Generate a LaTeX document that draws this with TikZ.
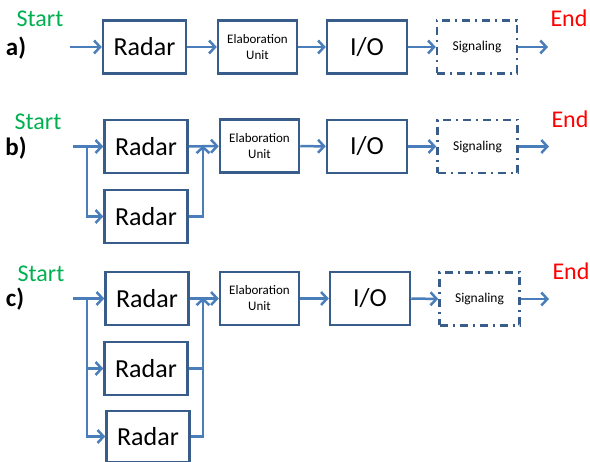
\documentclass[tikz,border=0pt]{standalone}
\usepackage{fontspec}
\setmainfont{Carlito}
\usetikzlibrary{arrows.meta}
\definecolor{boxc}{RGB}{56,93,138}
\definecolor{arrc}{RGB}{74,126,187}
\definecolor{startc}{RGB}{0,176,80}
\definecolor{endc}{RGB}{255,0,0}
\tikzset{
  blk/.style={draw=boxc, line width=2.5pt, rectangle, inner sep=0pt, minimum height=53pt, text=black},
  bigblk/.style={blk, minimum width=83pt, font=\fontsize{26}{28}\selectfont},
  elab/.style={blk, minimum width=79pt, font=\fontsize{13}{16}\selectfont, align=center},
  iob/.style={blk, minimum width=80pt, font=\fontsize{26}{28}\selectfont},
  sig/.style={blk, minimum width=80pt, font=\fontsize{13.5}{16}\selectfont, dash pattern=on 8pt off 5pt on 2pt off 5pt},
  conn/.style={draw=arrc, line width=2.5pt, -{Straight Barb[length=6pt,width=13pt,line width=2.5pt]}},
  plain/.style={draw=arrc, line width=2.5pt},
  startl/.style={text=startc, font=\fontsize{24}{26}\selectfont, inner sep=0pt},
  endl/.style={text=endc, font=\fontsize{24}{26}\selectfont, inner sep=0pt},
  lbl/.style={font=\fontsize{25}{27}\selectfont\bfseries, inner sep=0pt}
}
\begin{document}
\begin{tikzpicture}[x=1pt,y=-1pt]
\useasboundingbox (0,0) rectangle (590,462);
% ---- row a
\node[startl] (sa) at (40,19) {Start};
\node[lbl] (la) at (16,48) {a)};
\node[bigblk] (ra) at (144.5,47) {Radar};
\node[elab] (ea) at (257.5,47) {Elaboration\\Unit};
\node[iob] (ia) at (367,47) {I/O};
\node[sig] (ga) at (477,47) {Signaling};
\node[endl] (na) at (569,18) {End};
\coordinate (ina) at (70,47);
\coordinate (outa) at (548,47);
\draw[conn] (ina) -- (ra);
\draw[conn] (ra) -- (ea);
\draw[conn] (ea) -- (ia);
\draw[conn] (ia) -- (ga);
\draw[conn] (ga) -- (outa);
% ---- row b
\node[startl] (sb) at (38,122) {Start};
\node[lbl] (lb) at (16,148) {b)};
\node[bigblk] (rb1) at (146,146.5) {Radar};
\node[bigblk] (rb2) at (146,216.5) {Radar};
\node[elab] (eb) at (259.5,146) {Elaboration\\Unit};
\node[iob] (ib) at (367,146.5) {I/O};
\node[sig] (gb) at (477.5,146.5) {Signaling};
\node[endl] (nb) at (570,119) {End};
\coordinate (inb) at (73,146.5);
\coordinate (brb) at (87,146.5);
\coordinate (mgb) at (203,146.5);
\coordinate (outb) at (549,146.5);
\draw[conn] (inb) -- (rb1);
\draw[conn] (brb) |- (rb2);
\draw[conn] (rb1) -- (eb);
\draw[conn] (rb2) -| ([yshift=1pt]mgb);
\draw[conn] (eb) -- (ib);
\draw[conn] (ib) -- (gb);
\draw[conn] (gb) -- (outb);
% ---- row c
\node[startl] (sc) at (41,274) {Start};
\node[lbl] (lc) at (15,299) {c)};
\node[bigblk] (rc1) at (147,298.5) {Radar};
\node[bigblk] (rc2) at (146,368.5) {Radar};
\node[bigblk, minimum height=51pt] (rc3) at (148,436.5) {Radar};
\node[elab] (ec) at (259.5,298.5) {Elaboration\\Unit};
\node[iob] (ic) at (370,298.5) {I/O};
\node[sig] (gc) at (479.5,299) {Signaling};
\node[endl] (nc) at (571,271) {End};
\coordinate (inc) at (73,298.5);
\coordinate (brc) at (87,298.5);
\coordinate (brc2) at (87,368.5);
\coordinate (mgc) at (203,298.5);
\coordinate (mgc2) at (203,368.5);
\coordinate (outc) at (549,299);
\draw[conn] (inc) -- (rc1);
\draw[conn] (brc2) -- (rc2);
\draw[conn] (brc) |- (rc3);
\draw[conn] (rc1) -- (ec);
\draw[plain] (rc2) -- (mgc2);
\draw[conn] (rc3) -| ([yshift=1pt]mgc);
\draw[conn] (ec) -- (ic);
\draw[conn] (ic) -- (gc);
\draw[conn] (gc) -- (outc);
\end{tikzpicture}
\end{document}
